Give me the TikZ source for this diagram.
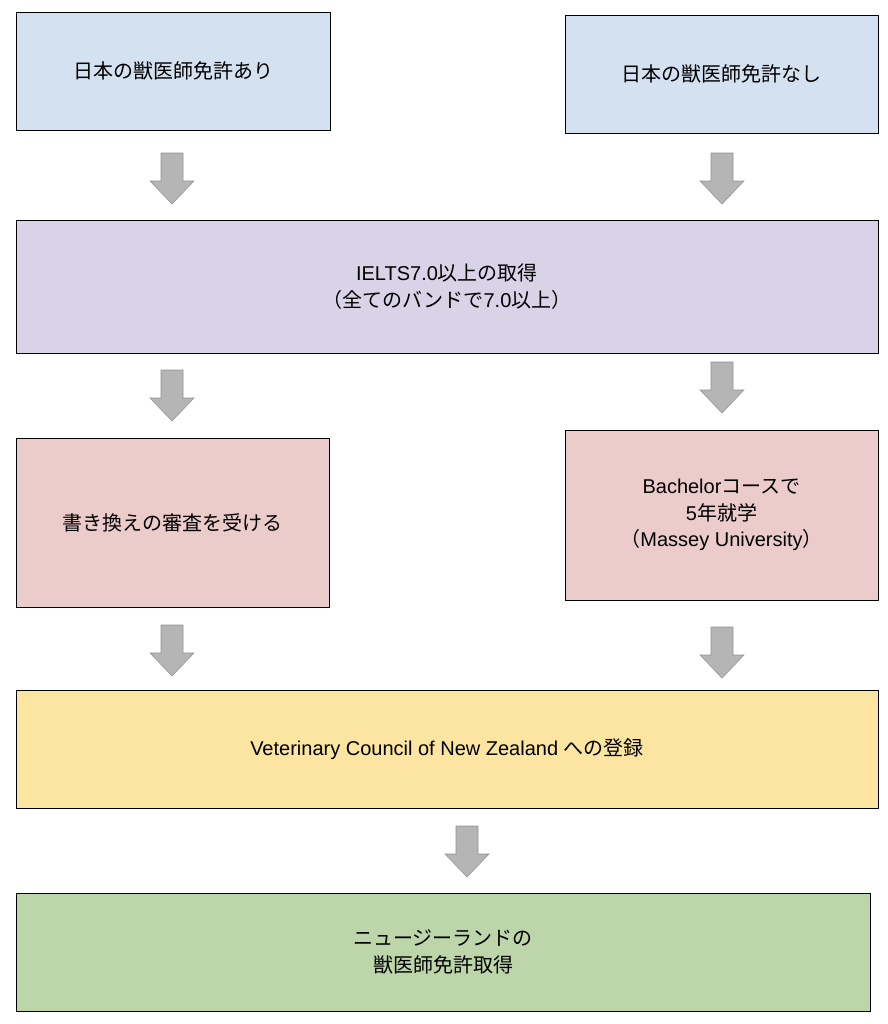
\documentclass[tikz,border=0pt]{standalone}
\usepackage{fontspec}
\setmainfont{Liberation Sans}
\newfontfamily\jp{Noto Sans CJK JP}
\definecolor{cblue}{HTML}{D3E1F0}
\definecolor{cpurple}{HTML}{D9D3E8}
\definecolor{cpink}{HTML}{EBCCCB}
\definecolor{cyellow}{HTML}{FBE5A0}
\definecolor{cgreen}{HTML}{BCD6A9}
\definecolor{cgray}{HTML}{B5B5B5}
\begin{document}
\begin{tikzpicture}[x=0.75pt,y=-0.75pt,
  box/.style={draw=black,line width=0.6pt,align=center,font=\fontsize{15}{20}\selectfont},
  darr/.style={draw=cgray!80!black,line width=0.4pt,fill=cgray}]
\useasboundingbox (0,0) rectangle (888,1024);
\def\bx#1#2#3#4#5#6#7{\path[box,fill=#6] (#2,#3) rectangle (#4,#5) node[box,draw=none,midway] (#1) {#7};}
\def\ar#1#2#3{\coordinate (#1) at (#2,#3);
  \draw[darr] (#2-11,#3) -- (#2+11,#3) -- (#2+11,#3+28) -- (#2+22,#3+28) -- (#2,#3+51) -- (#2-22,#3+28) -- (#2-11,#3+28) -- cycle;}
\bx{a}{16}{12}{330}{130}{cblue}{\jp 日本の獣医師免許あり}
\bx{b}{565}{15}{878}{133}{cblue}{\jp 日本の獣医師免許なし}
\bx{c}{16}{220}{878}{353}{cpurple}{IELTS7.0{\jp 以上の取得}\\{\jp （全てのバンドで}7.0{\jp 以上）}}
\bx{d}{16}{438}{329}{607}{cpink}{\jp 書き換えの審査を受ける}
\bx{e}{565}{430}{878}{600}{cpink}{Bachelor{\jp コースで}\\5{\jp 年就学}\\{\jp （}Massey University{\jp ）}}
\bx{f}{16}{690}{878}{808}{cyellow}{Veterinary Council of New Zealand {\jp への登録}}
\bx{g}{16}{893}{870}{1011}{cgreen}{\jp ニュージーランドの\\\jp 獣医師免許取得}
\ar{a1}{172}{153}
\ar{a2}{722}{153}
\ar{a3}{172}{370}
\ar{a4}{722}{362}
\ar{a5}{172}{625}
\ar{a6}{722}{627}
\ar{a7}{467}{826}
\end{tikzpicture}
\end{document}
